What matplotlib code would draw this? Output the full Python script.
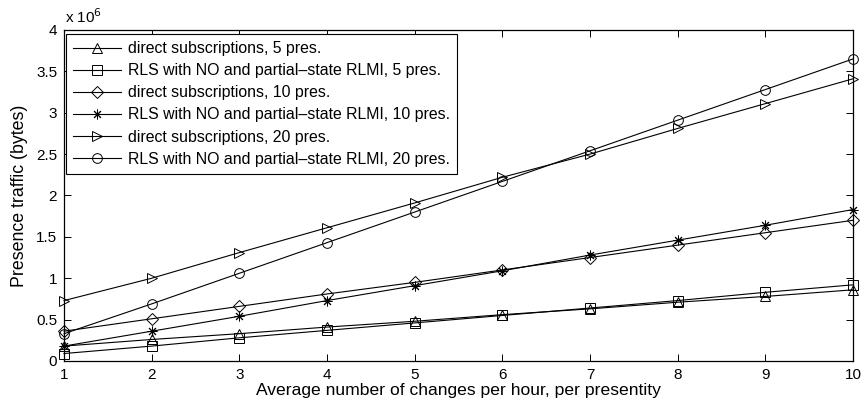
import matplotlib
matplotlib.use("Agg")
import matplotlib.pyplot as plt

plt.rcParams['font.family'] = ['Liberation Sans', 'DejaVu Sans']

changes = [1, 2, 3, 4, 5, 6, 7, 8, 9, 10]

# presence traffic in units of 1e6 bytes
direct_5 = [0.18, 0.26, 0.33, 0.41, 0.48, 0.56, 0.63, 0.71, 0.78, 0.86]
rls_5 = [0.09, 0.18, 0.28, 0.37, 0.46, 0.55, 0.64, 0.73, 0.83, 0.92]
direct_10 = [0.36, 0.51, 0.66, 0.81, 0.95, 1.10, 1.25, 1.40, 1.55, 1.70]
rls_10 = [0.18, 0.36, 0.54, 0.73, 0.91, 1.09, 1.28, 1.46, 1.64, 1.83]
direct_20 = [0.73, 1.00, 1.31, 1.61, 1.91, 2.22, 2.50, 2.81, 3.11, 3.41]
rls_20 = [0.33, 0.69, 1.06, 1.43, 1.80, 2.17, 2.54, 2.91, 3.28, 3.65]

labels = [
    'direct subscriptions, 5 pres.',
    'RLS with NO and partial\u2013state RLMI, 5 pres.',
    'direct subscriptions, 10 pres.',
    'RLS with NO and partial\u2013state RLMI, 10 pres.',
    'direct subscriptions, 20 pres.',
    'RLS with NO and partial\u2013state RLMI, 20 pres.',
]
series = [direct_5, rls_5, direct_10, rls_10, direct_20, rls_20]
# (8, 2, 0) is an eight-armed asterisk
markers = ['^', 's', 'D', (8, 2, 0), '>', 'o']
msizes = [7.5, 6.5, 6.5, 7, 7.5, 7]

fig = plt.figure(figsize=(8.63, 4.09), dpi=100)
ax = fig.add_axes([0.0742, 0.1174, 0.9142, 0.8093])

for ys, lab, m, ms in zip(series, labels, markers, msizes):
    ax.plot(changes, ys, color='black', linewidth=0.8, marker=m,
            markersize=ms, markerfacecolor='none', markeredgecolor='black',
            markeredgewidth=0.7, label=lab, clip_on=False)

ax.set_xlim(1, 10)
ax.set_ylim(0, 4)
ax.set_xticks(range(1, 11))
ax.set_yticks([0, 0.5, 1, 1.5, 2, 2.5, 3, 3.5, 4])
ax.set_yticklabels(['0', '0.5', '1', '1.5', '2', '2.5', '3', '3.5', '4'])
ax.tick_params(direction='in', top=True, right=True, length=5, width=0.7,
               labelsize=11, pad=5)
for sp in ax.spines.values():
    sp.set_linewidth(0.9)

ax.set_xlabel('Average number of changes per hour, per presentity', fontsize=12.6, labelpad=1)
ax.set_ylabel('Presence traffic (bytes)', fontsize=12.8)
ax.yaxis.set_label_coords(-0.046, 0.5)
ax.text(0.001, 1.021, r'x 10$^6$', transform=ax.transAxes, fontsize=11,
        ha='left', va='baseline')

leg = ax.legend(loc='upper left', bbox_to_anchor=(0.0025, 0.988), fontsize=11.4,
                handlelength=3.0, handletextpad=0.45, labelspacing=0.45,
                borderpad=0.45, borderaxespad=0, fancybox=False, framealpha=1,
                edgecolor='black')
leg.get_frame().set_linewidth(0.8)

fig.savefig('out.png', dpi=100)
